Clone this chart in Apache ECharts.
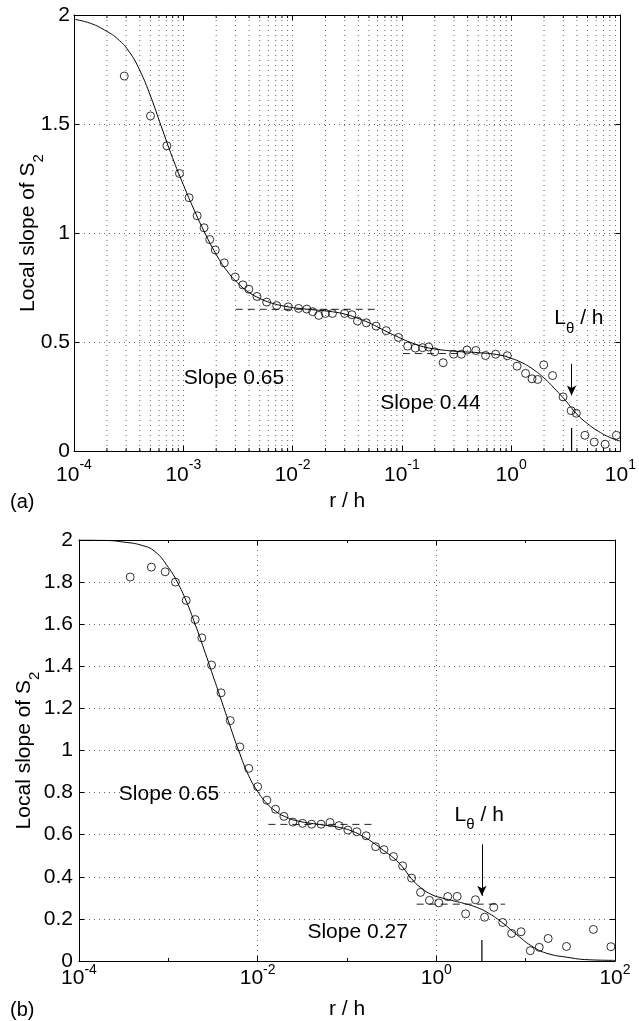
<!DOCTYPE html>
<html>
<head>
<meta charset="utf-8">
<script src="https://cdn.jsdelivr.net/npm/echarts@6/dist/echarts.min.js"></script>
<style>
html,body{margin:0;padding:0;background:#fff;}
#c{width:639px;height:1021px;}
</style>
</head>
<body>
<div id="c"></div>
<script>
// ---------- data (x values are log10(r/h)) ----------
const aPointsLogR = [-3.54,-3.30,-3.15,-3.035,-2.947,-2.873,-2.81,-2.758,-2.707,-2.625,-2.525,-2.455,-2.40,-2.326,-2.237,-2.145,-2.04,-1.945,-1.87,-1.816,-1.76,-1.70,-1.635,-1.524,-1.457,-1.406,-1.325,-1.236,-1.143,-1.032,-0.947,-0.877,-0.81,-0.755,-0.70,-0.622,-0.526,-0.456,-0.404,-0.323,-0.234,-0.142,-0.035,0.054,0.132,0.191,0.243,0.298,0.379,0.475,0.549,0.597,0.675,0.76,0.86,0.963];
const aPointsSlope = [1.72,1.537,1.40,1.273,1.162,1.079,1.024,0.970,0.922,0.863,0.798,0.762,0.742,0.709,0.683,0.667,0.661,0.654,0.651,0.639,0.622,0.631,0.631,0.631,0.625,0.596,0.588,0.573,0.552,0.521,0.481,0.472,0.474,0.477,0.455,0.405,0.444,0.444,0.463,0.461,0.438,0.444,0.437,0.389,0.356,0.331,0.328,0.395,0.346,0.248,0.185,0.173,0.072,0.041,0.031,0.072];
const aCurveLogR = [-4.0,-3.85,-3.7,-3.6,-3.5,-3.4,-3.3,-3.2,-3.1,-3.0,-2.9,-2.8,-2.7,-2.6,-2.5,-2.4,-2.3,-2.2,-2.05,-1.9,-1.75,-1.6,-1.5,-1.4,-1.3,-1.2,-1.1,-1.0,-0.9,-0.8,-0.7,-0.5,-0.3,-0.1,0.0,0.1,0.2,0.3,0.4,0.5,0.6,0.7,0.8,0.9,1.0];
const aCurveSlope = [1.98,1.962,1.925,1.89,1.835,1.748,1.628,1.487,1.347,1.222,1.105,0.998,0.903,0.826,0.77,0.728,0.70,0.68,0.662,0.652,0.645,0.636,0.625,0.608,0.588,0.563,0.538,0.515,0.494,0.478,0.468,0.457,0.451,0.44,0.425,0.405,0.375,0.335,0.285,0.23,0.17,0.125,0.09,0.063,0.045];
const aRef1LogR = [-2.52,-1.22];  const aRef1Slope = [0.65,0.65];
const aRef2LogR = [-0.99,-0.44];  const aRef2Slope = [0.447,0.447];
const aLthetaLogR = 0.553; const aLthetaMark = 0.105; const aArrow = [0.40,0.255];

const bPointsLogR = [-3.427,-3.19,-3.035,-2.92,-2.80,-2.70,-2.625,-2.516,-2.41,-2.307,-2.20,-2.10,-2.0,-1.897,-1.80,-1.706,-1.606,-1.497,-1.396,-1.29,-1.19,-1.09,-0.99,-0.89,-0.786,-0.68,-0.586,-0.48,-0.377,-0.277,-0.177,-0.077,0.028,0.128,0.233,0.328,0.438,0.54,0.643,0.743,0.843,0.948,1.052,1.152,1.252,1.457,1.758,1.954];
const bPointsSlope = [1.824,1.871,1.849,1.80,1.713,1.622,1.535,1.406,1.274,1.142,1.017,0.915,0.828,0.764,0.721,0.687,0.66,0.654,0.650,0.650,0.658,0.643,0.622,0.614,0.595,0.543,0.529,0.496,0.452,0.394,0.326,0.288,0.276,0.306,0.307,0.224,0.291,0.208,0.255,0.183,0.131,0.139,0.049,0.065,0.107,0.069,0.15,0.068];
const bCurveLogR = [-4.0,-3.7,-3.5,-3.3,-3.15,-3.0,-2.9,-2.8,-2.7,-2.6,-2.5,-2.4,-2.3,-2.2,-2.1,-2.0,-1.9,-1.8,-1.7,-1.55,-1.3,-1.1,-0.95,-0.8,-0.7,-0.59,-0.48,-0.38,-0.28,-0.18,-0.05,0.04,0.2,0.34,0.45,0.566,0.73,0.9,1.09,1.25,1.46,1.7,2.0];
const bCurveSlope = [2.0,1.998,1.99,1.975,1.945,1.87,1.80,1.71,1.60,1.48,1.355,1.23,1.105,0.985,0.88,0.805,0.75,0.712,0.687,0.665,0.648,0.636,0.618,0.587,0.56,0.525,0.49,0.447,0.392,0.35,0.315,0.302,0.285,0.27,0.255,0.232,0.185,0.125,0.065,0.035,0.018,0.006,0.003];
const bRef1LogR = [-1.88,-0.72]; const bRef1Slope = [0.649,0.649];
const bRef2LogR = [-0.22,0.77];  const bRef2Slope = [0.27,0.27];
const bLthetaLogR = 0.51; const bLthetaMark = 0.10; const bArrow = [0.554,0.31];

// tick definitions
const aXExtent = [-4,1]; const aXInterval = 1;
const aYExtent = [0,2];  const aYInterval = 0.5;
const bXExtent = [-4,2]; const bXInterval = 2;
const bYExtent = [0,2];  const bYInterval = 0.2;
const aMinorDecades = [-4,-3,-2,-1,0];
const minorMultipliers = [2,3,4,5,6,7,8,9];

// annotations [logR, slope, text]
const aNotes = [[-2.537,0.326,'{n|Slope 0.65}'],[-0.739,0.211,'{n|Slope 0.44}'],[0.62,0.60,'{n|L}{sub|θ}{n| / h}']];
const bNotes = [[-2.992,0.787,'{n|Slope 0.65}'],[-0.881,0.128,'{n|Slope 0.27}'],[0.48,0.685,'{n|L}{sub|θ}{n| / h}']];

// ---------- build ----------
const FONT = 'Liberation Sans, Arial, Helvetica, sans-serif';
const pair = (xs, ys) => xs.map((x, i) => [x, ys[i]]);
const aMinorPos = [];
aMinorDecades.forEach(d => minorMultipliers.forEach(m => aMinorPos.push([d + Math.log10(m), 0])));

const gridDot = {color:'#666', width:1, type:[1,4]};
const noteRich = {
  n:{fontSize:21, fontFamily:FONT, fill:'#000', lineHeight:24, verticalAlign:'top'},
  sub:{fontSize:15, fontFamily:FONT, fill:'#000', lineHeight:16, padding:[13,0,0,0], verticalAlign:'top'}
};
function expLabel(v){ return '{b|10}{s|' + Math.round(v) + '}'; }
function xLabelRich(pad){
  return {
    b:{fontSize:21, fontFamily:FONT, color:'#000', lineHeight:20, padding:[pad,0,0,0], verticalAlign:'top'},
    s:{fontSize:14, fontFamily:FONT, color:'#000', lineHeight:14, verticalAlign:'top'}
  };
}
const nameRich = {
  n:{fontSize:21, fontFamily:FONT, color:'#000', lineHeight:24, verticalAlign:'top'},
  sub:{fontSize:15, fontFamily:FONT, color:'#000', lineHeight:16, padding:[13,0,0,0], verticalAlign:'top'}
};
const axLine = {show:true, onZero:false, lineStyle:{color:'#000', width:1}};

function xMain(grid, ext, interval, margin, pad, gap, split, minor){
  return {type:'value', gridIndex:grid, min:ext[0], max:ext[1], interval:interval, position:'bottom',
    axisLine:axLine, axisTick:{show:true, inside:true, length:5, lineStyle:{color:'#000'}},
    minorTick: minor ? {show:true, splitNumber:2, length:3, lineStyle:{color:'#000'}} : {show:false},
    axisLabel:{show:true, margin:margin, formatter:expLabel, rich:xLabelRich(pad)},
    splitLine:{show:split, lineStyle:gridDot},
    name:'r / h', nameLocation:'middle', nameGap:gap, nameMoveOverlap:false,
    nameTextStyle:{fontSize:21, fontFamily:FONT, color:'#000'}};
}
function xTop(grid, ext, interval, minor){
  return {type:'value', gridIndex:grid, min:ext[0], max:ext[1], interval:interval, position:'top',
    axisLine:axLine, axisTick:{show:true, inside:true, length:5, lineStyle:{color:'#000'}},
    minorTick: minor ? {show:true, splitNumber:2, length:3, lineStyle:{color:'#000'}} : {show:false},
    axisLabel:{show:false}, splitLine:{show:false}};
}
function yMain(grid, ext, interval, margin, gap){
  return {type:'value', gridIndex:grid, min:ext[0], max:ext[1], interval:interval, position:'left',
    axisLine:axLine, axisTick:{show:true, inside:true, length:5, lineStyle:{color:'#000'}},
    axisLabel:{show:true, margin:margin, fontSize:21, fontFamily:FONT, color:'#000'},
    splitLine:{show:true, lineStyle:gridDot},
    name:'{n|Local slope of S}{sub|2}', nameLocation:'middle', nameGap:gap, nameMoveOverlap:false,
    nameTextStyle:{rich:nameRich}};
}
function yRight(grid, ext, interval){
  return {type:'value', gridIndex:grid, min:ext[0], max:ext[1], interval:interval, position:'right',
    axisLine:axLine, axisTick:{show:true, inside:true, length:5, lineStyle:{color:'#000'}},
    axisLabel:{show:false}, splitLine:{show:false}};
}

function panelSeries(ax, pts, curve, ref1, ref2, lth, lthMark, arrow, notes){
  const s = [];
  s.push({type:'line', xAxisIndex:ax.x, yAxisIndex:ax.y, data:curve, showSymbol:false, smooth:0.5,
    lineStyle:{color:'#000', width:1}, z:3, silent:true});
  [ref1, ref2].forEach(r => s.push({type:'line', xAxisIndex:ax.x, yAxisIndex:ax.y, data:r, showSymbol:false,
    lineStyle:{color:'#222', width:1, type:[7,5]}, z:3, silent:true}));
  s.push({type:'line', xAxisIndex:ax.x, yAxisIndex:ax.y, data:[[lth,0],[lth,lthMark]], showSymbol:false,
    lineStyle:{color:'#000', width:1.2}, z:3, silent:true,
    markLine:{silent:true, symbol:['none','arrow'], symbolSize:[7,10], label:{show:false},
      lineStyle:{color:'#000', width:1, type:'solid'},
      data:[[{coord:[lth,arrow[0]]},{coord:[lth,arrow[1]]}]]}});
  s.push({type:'scatter', xAxisIndex:ax.x, yAxisIndex:ax.y, data:pts, symbol:'circle', symbolSize:8,
    itemStyle:{color:'rgba(0,0,0,0)', borderColor:'#000', borderWidth:1}, z:4, silent:true});
  s.push({type:'custom', xAxisIndex:ax.x, yAxisIndex:ax.y, data:notes.map(n => [n[0], n[1]]), z:5, silent:true,
    encode:{x:0, y:1},
    renderItem:(params, api) => {
      const p = api.coord([api.value(0), api.value(1)]);
      return {type:'text', x:p[0], y:p[1],
        style:{text:notes[params.dataIndex][2], rich:noteRich, align:'center', verticalAlign:'middle',
          fill:'#000', fontSize:21, fontFamily:FONT}};
    }});
  return s;
}

const series = [];
series.push({type:'custom', xAxisIndex:0, yAxisIndex:0, data:aMinorPos, silent:true, z:1,
  encode:{x:0, y:1},
  renderItem:(params, api) => {
    const x = api.value(0);
    const p0 = api.coord([x, aYExtent[0]]); const p1 = api.coord([x, aYExtent[1]]);
    return {type:'group', children:[
      {type:'line', shape:{x1:p0[0], y1:p0[1], x2:p1[0], y2:p1[1]}, style:{stroke:'#666', lineWidth:1, lineDash:[1,4]}},
      {type:'line', shape:{x1:p0[0], y1:p0[1], x2:p0[0], y2:p0[1]-3}, style:{stroke:'#000', lineWidth:1}},
      {type:'line', shape:{x1:p1[0], y1:p1[1], x2:p1[0], y2:p1[1]+3}, style:{stroke:'#000', lineWidth:1}}
    ]};
  }});
series.push(...panelSeries({x:0,y:0}, pair(aPointsLogR,aPointsSlope), pair(aCurveLogR,aCurveSlope),
  pair(aRef1LogR,aRef1Slope), pair(aRef2LogR,aRef2Slope), aLthetaLogR, aLthetaMark, aArrow, aNotes));
series.push(...panelSeries({x:2,y:2}, pair(bPointsLogR,bPointsSlope), pair(bCurveLogR,bCurveSlope),
  pair(bRef1LogR,bRef1Slope), pair(bRef2LogR,bRef2Slope), bLthetaLogR, bLthetaMark, bArrow, bNotes));

const chart = echarts.init(document.getElementById('c'), null, {renderer:'canvas'});
chart.setOption({
  animation:false,
  backgroundColor:'#fff',
  title:[
    {text:'(a)', left:10, top:492, textStyle:{fontSize:20, fontWeight:'normal', fontFamily:FONT, color:'#000'}, padding:0},
    {text:'(b)', left:10, top:1000, textStyle:{fontSize:20, fontWeight:'normal', fontFamily:FONT, color:'#000'}, padding:0}
  ],
  grid:[
    {left:74, top:15, width:552, height:436},
    {left:79, top:540, width:536, height:422}
  ],
  xAxis:[
    xMain(0, aXExtent, aXInterval, 7, 7, 40, true, false),
    xTop(0, aXExtent, aXInterval, false),
    xMain(1, bXExtent, bXInterval, 2, 5, 38, true, true),
    xTop(1, bXExtent, bXInterval, true)
  ],
  yAxis:[
    yMain(0, aYExtent, aYInterval, 4, 32),
    yRight(0, aYExtent, aYInterval),
    yMain(1, bYExtent, bYInterval, 6, 41),
    yRight(1, bYExtent, bYInterval)
  ],
  series:series
});
</script>
</body>
</html>
